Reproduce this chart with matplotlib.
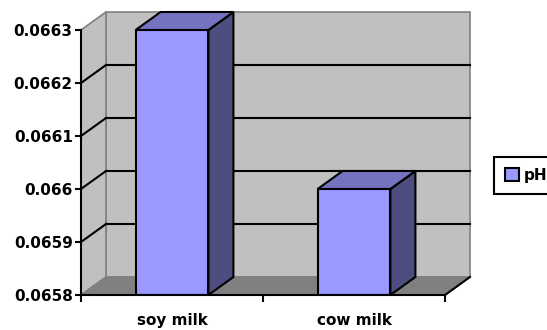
import matplotlib.pyplot as plt
from matplotlib.patches import Polygon, Patch
from matplotlib.transforms import ScaledTranslation

categories = ["soy milk", "cow milk"]
ph_values = [0.0663, 0.0660]
yticks = [0.0658, 0.0659, 0.066, 0.0661, 0.0662, 0.0663]
tick_labels = ["0.0658", "0.0659", "0.066", "0.0661", "0.0662", "0.0663"]

ymin, ymax = 0.0658, 0.0663
xmin, xmax = 0.0, 2.0
bw = 0.4

front = "#9999FF"
top_col = "#7373BF"
side_col = "#4D4D80"
wall = "#C0C0C0"
floor = "#808080"

fig = plt.figure(figsize=(5.47, 3.30), dpi=100)
W, H = 547.0, 330.0
ax = fig.add_axes([81 / W, 1 - 295 / H, (445 - 81) / W, (295 - 30) / H])
ax.set_xlim(xmin, xmax)
ax.set_ylim(ymin, ymax)
ax.set_facecolor("none")

# depth offset of the 3d box (pixels at dpi 100)
back = ax.transData + ScaledTranslation(25 / 100, 18 / 100, fig.dpi_scale_trans)


def quad(front_pts, back_pts, fc, ec, lw, z):
    # front_pts / back_pts given in data coords, back ones get shifted
    pts_f = ax.transData.transform(front_pts)
    pts_b = back.transform(back_pts)
    inv = ax.transData.inverted()
    poly = Polygon(inv.transform(list(pts_f) + list(pts_b)), closed=True,
                   facecolor=fc, edgecolor=ec, linewidth=lw, zorder=z,
                   clip_on=False, transform=ax.transData, joinstyle="miter")
    ax.add_patch(poly)


# back wall
quad([], [(xmin, ymin), (xmin, ymax), (xmax, ymax), (xmax, ymin)], wall, "#808080", 1.2, 0)
# left wall
quad([(xmin, ymin), (xmin, ymax)], [(xmin, ymax), (xmin, ymin)], wall, "#808080", 1.2, 0.5)
# floor
quad([(xmin, ymin), (xmax, ymin)], [(xmax, ymin), (xmin, ymin)], floor, "#808080", 1.0, 0.6)

# gridlines on back wall and left wall
for t in yticks[1:-1]:
    ax.plot([xmin, xmax], [t, t], color="black", lw=1.5, transform=back, clip_on=False, zorder=1)
    p0 = ax.transData.transform((xmin, t))
    p1 = back.transform((xmin, t))
    q = ax.transData.inverted().transform([p0, p1])
    ax.plot(q[:, 0], q[:, 1], color="black", lw=1.5, clip_on=False, zorder=1)

# floor right edge
p0 = ax.transData.transform((xmax, ymin))
p1 = back.transform((xmax, ymin))
q = ax.transData.inverted().transform([p0, p1])
ax.plot(q[:, 0], q[:, 1], color="black", lw=1.5, clip_on=False, zorder=2)

# bars
for i, v in enumerate(ph_values):
    x0 = i + 0.5 - bw / 2
    x1 = i + 0.5 + bw / 2
    quad([(x1, ymin), (x1, v)], [(x1, v), (x1, ymin)], side_col, "black", 1.5, 3)
    quad([(x0, v), (x1, v)], [(x1, v), (x0, v)], top_col, "black", 1.5, 3)
    ax.bar(i + 0.5, v - ymin, bottom=ymin, width=bw, color=front,
           edgecolor="black", linewidth=1.5, zorder=4)

for s in ["top", "right"]:
    ax.spines[s].set_visible(False)
for s in ["left", "bottom"]:
    ax.spines[s].set_linewidth(1.5)
    ax.spines[s].set_zorder(5)

ax.set_yticks(yticks)
ax.set_yticklabels(tick_labels, fontsize=11, fontweight="bold")
ax.tick_params(axis="y", length=4, width=1.5, pad=2)
ax.set_xticks([0, 1, 2])
ax.set_xticklabels(["", "", ""])
ax.set_xticks([0.5, 1.5], minor=True)
ax.set_xticklabels(categories, minor=True, fontsize=11, fontweight="bold")
ax.tick_params(axis="x", which="major", length=5, width=1.5, direction="out")
ax.tick_params(axis="x", which="minor", length=0, pad=13)

leg = fig.legend(handles=[Patch(facecolor=front, edgecolor="black", linewidth=1.5, label="pH")],
                 loc="center left", bbox_to_anchor=(489 / W, 1 - 175.5 / H),
                 prop={"size": 11, "weight": "bold"}, handlelength=0.9, handleheight=0.9,
                 handletextpad=0.3, borderpad=0.75, borderaxespad=0.3,
                 fancybox=False, framealpha=1)
leg.get_frame().set_edgecolor("black")
leg.get_frame().set_linewidth(1.5)

fig.savefig("out.png", dpi=100)
